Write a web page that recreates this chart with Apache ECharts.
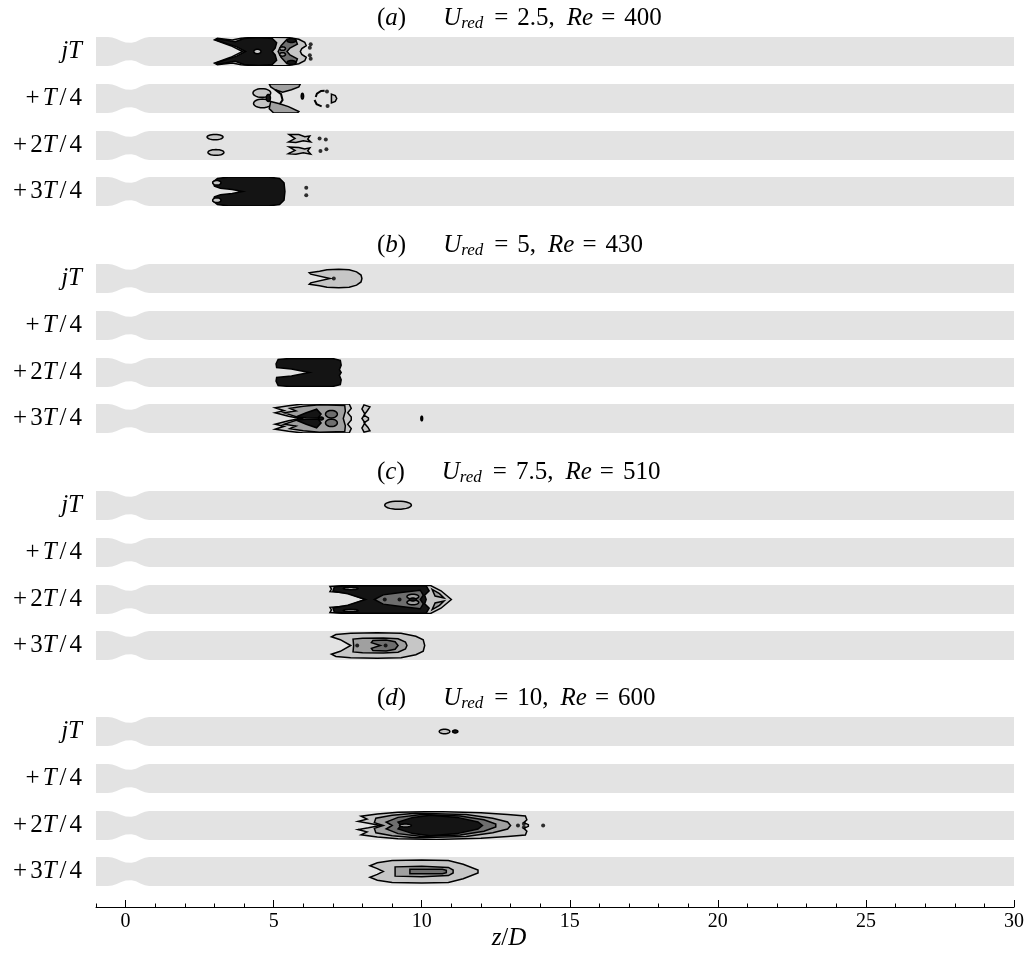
<!DOCTYPE html>
<html><head><meta charset="utf-8">
<script src="https://cdn.jsdelivr.net/npm/echarts@6/dist/echarts.min.js"></script>
<style>html,body{margin:0;padding:0;background:#fff}#c{width:1028px;height:963px}</style>
</head><body><div id="c"></div>
<script>
// ---------------- data ----------------
const zMin = -1, zMax = 30;
const zTickValues = [0, 5, 10, 15, 20, 25, 30];
const rowLabels = ['jT', '+T/4', '+2T/4', '+3T/4'];
const panelLetters = ['a', 'b', 'c', 'd'];
const panelUred = ['2.5', '5', '7.5', '10'];
const panelRe = ['400', '430', '510', '600'];

// channel wall (upper half, z/D vs r/D) with the constriction near z = 0
const wallZ = [-1, -0.6, -0.45, -0.3, -0.15, 0, 0.2, 0.35, 0.5, 0.65, 0.8, 30];
const wallR = [0.5, 0.5, 0.48, 0.43, 0.36, 0.31, 0.30, 0.34, 0.41, 0.47, 0.5, 0.5];

// contour shapes: lv = contour level (0 light .. 3 darkest), -1 = line only
// s: upper half of a shape symmetric about r=0; p: polygon; e: ellipse [z,r,dz,dr] (m: mirrored pair); l: polyline
const shapesA_jT = [
  {lv:0, s:[[3.95,0],[3.55,0.2],[3.0,0.40],[3.1,0.46],[3.6,0.40],[3.9,0.46],[4.4,0.49],[5.0,0.49],[5.5,0.48],[5.85,0.42],[6.05,0.32],[6.1,0.2],[5.95,0.1],[5.9,0]]},
  {lv:3, s:[[4.05,0],[3.75,0.16],[3.05,0.40],[3.1,0.44],[3.7,0.34],[4.0,0.45],[4.5,0.48],[4.95,0.45],[5.1,0.3],[5.05,0.12],[4.95,0]]},
  {lv:2, s:[[5.15,0],[5.25,0.2],[5.45,0.42],[5.75,0.40],[5.8,0.25],[5.55,0.12],[5.45,0]]},
  {lv:3, e:[5.6,0.38,0.15,0.07], m:1},
  {lv:0, e:[4.45,0,0.12,0.08]},
  {lv:1, e:[5.3,0.1,0.1,0.06], m:1}
];
const dotsA_jT = [[6.25,0.25],[6.25,-0.25],[6.22,0.13],[6.22,-0.13]];

const shapesA_T4 = [
  {lv:0, e:[4.6,0.19,0.3,0.15]},
  {lv:0, e:[4.62,-0.17,0.3,0.15]},
  {lv:1, p:[[4.85,0.5],[5.9,0.5],[5.85,0.4],[5.6,0.3],[5.3,0.22],[5.05,0.3],[4.9,0.4]]},
  {lv:1, p:[[4.9,-0.1],[5.2,-0.18],[5.5,-0.28],[5.85,-0.45],[5.8,-0.5],[5.0,-0.5],[4.85,-0.35]]},
  {lv:3, e:[4.82,0.02,0.07,0.12]},
  {lv:3, e:[5.97,0.08,0.04,0.1]},
  {lv:-1, l:[[6.42,0.05],[6.46,0.17],[6.6,0.26],[6.72,0.27]]},
  {lv:-1, l:[[6.38,-0.05],[6.45,-0.2],[6.62,-0.27]]},
  {lv:-1, l:[[5.05,0.3],[5.25,0.15],[5.3,-0.05],[5.2,-0.2]]},
  {lv:0, p:[[6.95,0.15],[7.08,0.1],[7.13,0],[7.08,-0.1],[6.95,-0.15]]}
];
const dotsA_T4 = [[6.8,0.24],[6.82,-0.26]];

const shapesA_2T4 = [
  {lv:0, e:[3.02,0.29,0.27,0.09]},
  {lv:0, e:[3.05,-0.24,0.27,0.1]},
  {lv:0, p:[[5.52,0.38],[5.85,0.38],[6.05,0.3],[6.22,0.33],[6.15,0.22],[6.25,0.12],[6.0,0.16],[5.75,0.1],[5.5,0.12],[5.72,0.24]]},
  {lv:0, p:[[5.52,-0.05],[5.85,-0.07],[6.05,-0.12],[6.22,-0.08],[6.15,-0.18],[6.25,-0.3],[6.0,-0.25],[5.75,-0.3],[5.5,-0.28],[5.72,-0.17]]}
];
const dotsA_2T4 = [[6.55,0.24],[6.76,0.21],[6.58,-0.19],[6.78,-0.13]];

const shapesA_3T4 = [
  {lv:3, s:[[3.95,0],[3.6,0.07],[3.2,0.11],[3.0,0.18],[2.95,0.33],[3.1,0.45],[3.5,0.5],[4.8,0.5],[5.2,0.45],[5.35,0.3],[5.38,0]]},
  {lv:0, e:[3.08,0.3,0.14,0.08], m:1}
];
const dotsA_3T4 = [[6.1,0.13],[6.1,-0.13]];

const shapesB_jT = [
  {lv:0, s:[[6.9,0],[6.25,0.15],[6.2,0.2],[6.55,0.25],[6.8,0.3],[7.2,0.32],[7.55,0.3],[7.8,0.23],[7.95,0.12],[7.98,0]]}
];
const dotsB_jT = [[7.03,0]];
const shapesB_T4 = [];
const dotsB_T4 = [];
const shapesB_2T4 = [
  {lv:3, s:[[6.2,0],[5.6,0.12],[5.1,0.17],[5.08,0.3],[5.15,0.45],[5.5,0.48],[7.0,0.48],[7.25,0.42],[7.28,0.25],[7.22,0.1],[7.28,0]]}
];
const dotsB_2T4 = [];
const shapesB_3T4 = [
  {lv:0, s:[[5.9,0],[5.5,0.08],[5.05,0.2],[5.35,0.27],[5.05,0.37],[5.5,0.44],[6.0,0.5],[7.55,0.5],[7.62,0.35],[7.5,0.2],[7.62,0.05],[7.62,0]]},
  {lv:1, s:[[5.95,0],[5.65,0.1],[5.35,0.2],[5.75,0.26],[5.55,0.35],[6.0,0.42],[6.55,0.47],[7.4,0.45],[7.42,0.25],[7.35,0]]},
  {lv:3, p:[[5.75,0.05],[6.1,0.2],[6.45,0.32],[6.6,0.15],[6.5,0.02],[6.1,0.03]]},
  {lv:3, p:[[5.75,-0.05],[6.1,-0.2],[6.45,-0.32],[6.6,-0.15],[6.5,-0.02],[6.1,-0.03]]},
  {lv:2, e:[6.95,0.15,0.2,0.13], m:1},
  {lv:3, e:[6.6,0,0.08,0.05]},
  {lv:0, p:[[8.05,0.47],[8.25,0.4],[8.15,0.25],[8.05,0.12],[8.2,0.02],[8.2,-0.05],[8.05,-0.15],[8.18,-0.3],[8.25,-0.42],[8.05,-0.47],[7.98,-0.33],[8.08,-0.15],[7.98,0],[8.08,0.15],[7.98,0.33]]},
  {lv:3, e:[10.0,0,0.03,0.08]}
];
const dotsB_3T4 = [];

const shapesC_jT = [ {lv:0, e:[9.2,0.01,0.45,0.14]} ];
const dotsC_jT = [];
const shapesC_T4 = [];
const dotsC_T4 = [];
const shapesC_2T4 = [
  {lv:0, s:[[8.1,0],[7.5,0.22],[6.9,0.27],[6.95,0.36],[6.9,0.45],[7.4,0.48],[10.3,0.48],[10.65,0.3],[11.0,0]]},
  {lv:3, s:[[8.1,0],[7.5,0.2],[7.0,0.29],[7.05,0.44],[7.5,0.47],[10.15,0.47],[10.25,0.3],[10.1,0.15],[10.15,0]]},
  {lv:2, s:[[8.4,0],[8.7,0.16],[9.3,0.24],[9.95,0.32],[10.05,0.15],[9.95,0]]},
  {lv:1, e:[9.7,0.1,0.2,0.08], m:1},
  {lv:3, e:[9.7,0,0.12,0.05]},
  {lv:1, p:[[10.35,0.35],[10.6,0.2],[10.75,0.05],[10.45,0.12]]},
  {lv:1, p:[[10.35,-0.35],[10.6,-0.2],[10.75,-0.05],[10.45,-0.12]]},
  {lv:1, e:[7.6,0.38,0.25,0.04], m:1}
];
const dotsC_2T4 = [[8.75,0],[9.25,0]];
const shapesC_3T4 = [
  {lv:0, s:[[7.6,0],[7.25,0.2],[6.95,0.3],[7.1,0.38],[7.6,0.42],[8.5,0.44],[9.3,0.42],[9.8,0.32],[10.05,0.2],[10.1,0]]},
  {lv:1, s:[[7.7,0],[7.68,0.22],[8.0,0.25],[8.7,0.26],[9.2,0.23],[9.45,0.12],[9.5,0]]},
  {lv:2, s:[[8.6,0],[8.3,0.1],[8.35,0.17],[8.8,0.19],[9.1,0.13],[9.2,0]]}
];
const dotsC_3T4 = [[7.82,0],[8.78,0]];

const shapesD_jT = [ {lv:0, e:[10.77,0,0.18,0.08]}, {lv:3, e:[11.13,0,0.09,0.05]} ];
const dotsD_jT = [];
const shapesD_T4 = [];
const dotsD_T4 = [];
const shapesD_2T4 = [
  {lv:0, s:[[8.6,0],[8.2,0.08],[7.85,0.14],[8.15,0.22],[7.95,0.32],[8.5,0.4],[9.2,0.46],[10.5,0.48],[12.0,0.44],[12.9,0.38],[13.5,0.33],[13.55,0.2],[13.45,0.1],[13.6,0.03],[13.6,0]]},
  {lv:1, s:[[8.7,0],[8.4,0.1],[8.45,0.25],[9.0,0.35],[9.8,0.42],[11.5,0.38],[12.4,0.25],[12.9,0.12],[13.0,0]]},
  {lv:2, s:[[9.0,0],[8.8,0.12],[9.2,0.28],[10.0,0.38],[11.3,0.33],[12.1,0.2],[12.5,0.05],[12.5,0]]},
  {lv:3, s:[[9.3,0],[9.2,0.12],[9.7,0.28],[10.3,0.35],[11.2,0.28],[11.9,0.12],[12.05,0]]},
  {lv:1, e:[9.45,0,0.2,0.05]}
];
const dotsD_2T4 = [[13.25,0],[13.45,0.06],[13.45,-0.06],[14.1,0]];
const shapesD_3T4 = [
  {lv:0, s:[[8.7,0],[8.5,0.1],[8.25,0.2],[8.5,0.3],[9.0,0.38],[10.0,0.4],[10.9,0.38],[11.4,0.25],[11.9,0.05],[11.9,0]]},
  {lv:1, s:[[9.1,0],[9.1,0.16],[10.0,0.18],[10.9,0.14],[11.06,0.05],[11.06,0]]},
  {lv:2, s:[[9.6,0],[9.6,0.08],[10.7,0.08],[10.83,0.04],[10.83,0]]}
];
const dotsD_3T4 = [];

const rowShapes = [shapesA_jT, shapesA_T4, shapesA_2T4, shapesA_3T4,
                   shapesB_jT, shapesB_T4, shapesB_2T4, shapesB_3T4,
                   shapesC_jT, shapesC_T4, shapesC_2T4, shapesC_3T4,
                   shapesD_jT, shapesD_T4, shapesD_2T4, shapesD_3T4];
const rowDots = [dotsA_jT, dotsA_T4, dotsA_2T4, dotsA_3T4,
                 dotsB_jT, dotsB_T4, dotsB_2T4, dotsB_3T4,
                 dotsC_jT, dotsC_T4, dotsC_2T4, dotsC_3T4,
                 dotsD_jT, dotsD_T4, dotsD_2T4, dotsD_3T4];

// ---------------- layout / style ----------------
const panelTop = [37, 264, 491, 717];
const rowStep = 46.8;
const bandH = 29;
const gridLeft = 96, gridRight = 14;
const levelFill = ['#c6c6c6', '#a0a0a0', '#6e6e6e', '#141414'];
const bandColor = '#e3e3e3';
const serif = '"Liberation Serif", "DejaVu Serif", serif';

const rowTop = [];
for (let p = 0; p < 4; p++) for (let k = 0; k < 4; k++) rowTop.push(Math.round(panelTop[p] + k * rowStep));

// math-style rich text: italic letters, upright digits/operators with TeX-like spacing
function mathRich(str) {
  let out = '';
  for (const ch of str) {
    if (/[A-Za-z]/.test(ch)) out += '{i|' + ch + '}';
    else if (ch === '+' || ch === '/') out += '{op|' + ch + '}';
    else out += '{n|' + ch + '}';
  }
  return out;
}

function shapePolys(sh) {
  const out = [];
  if (sh.s) {
    const s = sh.s, pts = s.slice();
    for (let i = s.length - 2; i >= 1; i--) pts.push([s[i][0], -s[i][1]]);
    out.push(pts);
  } else if (sh.p) {
    out.push(sh.p);
  } else if (sh.e) {
    const [cz, cr, dz, dr] = sh.e;
    const centers = sh.m ? [cr, -cr] : [cr];
    centers.forEach(c => {
      const pts = [];
      for (let k = 0; k < 28; k++) {
        const t = k / 28 * Math.PI * 2;
        pts.push([cz + dz * Math.cos(t), c + dr * Math.sin(t)]);
      }
      out.push(pts);
    });
  }
  return out;
}

const grids = [], xAxes = [], yAxes = [], series = [];
for (let i = 0; i < 16; i++) {
  grids.push({left: gridLeft, right: gridRight, top: rowTop[i], height: bandH});
  const last = i === 15;
  xAxes.push({
    gridIndex: i, type: 'value', min: zMin, max: zMax, show: last, position: 'bottom',
    offset: last ? 21 : 0,
    axisLine: {show: true, onZero: false, lineStyle: {color: '#000', width: 1}},
    axisTick: {show: true, inside: true, length: 7, customValues: zTickValues, lineStyle: {color: '#000', width: 1}},
    axisLabel: {show: true, customValues: zTickValues, color: '#000', fontSize: 20, fontFamily: serif, margin: 5},
    splitLine: {show: false}
  });
  yAxes.push({gridIndex: i, type: 'value', min: -0.5, max: 0.5, show: false});

  // channel
  series.push({
    type: 'custom', xAxisIndex: i, yAxisIndex: i, z: 1, silent: true, clip: true,
    data: [[0, 0]],
    renderItem: (params, api) => {
      const pts = [];
      for (let k = 0; k < wallZ.length; k++) pts.push(api.coord([wallZ[k], wallR[k]]));
      for (let k = wallZ.length - 1; k >= 0; k--) pts.push(api.coord([wallZ[k], -wallR[k]]));
      return {type: 'polygon', shape: {points: pts}, style: {fill: bandColor, stroke: null}};
    }
  });
  // contours
  const shapes = rowShapes[i];
  if (shapes.length) {
    series.push({
      type: 'custom', xAxisIndex: i, yAxisIndex: i, z: 2, silent: true, clip: true,
      data: shapes.map((s, k) => [k, 0]),
      renderItem: (params, api) => {
        const sh = shapes[params.dataIndex];
        if (sh.l) {
          return {type: 'polyline', shape: {points: sh.l.map(p => api.coord(p))},
                  style: {stroke: '#000', lineWidth: 2, fill: null}};
        }
        const children = shapePolys(sh).map(poly => ({
          type: 'polygon', shape: {points: poly.map(p => api.coord(p))},
          style: {fill: levelFill[sh.lv], stroke: '#000', lineWidth: 1.5}
        }));
        return {type: 'group', children};
      }
    });
  }
  if (rowDots[i].length) {
    series.push({
      type: 'scatter', xAxisIndex: i, yAxisIndex: i, z: 3, silent: true,
      symbol: 'circle', symbolSize: 4, itemStyle: {color: '#000'},
      data: rowDots[i]
    });
  }
}
// minor ticks axis
const minorTicks = [];
for (let v = zMin; v <= zMax; v++) minorTicks.push(v);
xAxes.push({
  gridIndex: 15, type: 'value', min: zMin, max: zMax, position: 'bottom', offset: 21,
  axisLine: {show: false, onZero: false},
  axisTick: {show: true, inside: true, length: 3.5, customValues: minorTicks, lineStyle: {color: '#000', width: 1}},
  axisLabel: {show: false}, splitLine: {show: false}
});

const graphic = [];
const FS = 25, LFS = 25;
const titleRich = {
  i: {fontFamily: serif, fontStyle: 'italic', fontSize: FS, color: '#000'},
  n: {fontFamily: serif, fontSize: FS, color: '#000'},
  eq: {fontFamily: serif, fontSize: FS, color: '#000', padding: [0, 9, 0, 8]},
  sub: {fontFamily: serif, fontStyle: 'italic', fontSize: 17, color: '#000', padding: [11, 3, 0, 0]},
  sp: {fontSize: FS, width: 37},
  gap: {fontSize: FS, width: 12}
};
const labelRich = {
  i: {fontFamily: serif, fontStyle: 'italic', fontSize: LFS, color: '#000'},
  n: {fontFamily: serif, fontSize: LFS, color: '#000'},
  op: {fontFamily: serif, fontSize: LFS, color: '#000', padding: [0, 3, 0, 3]}
};
for (let i = 0; i < 16; i++) {
  graphic.push({
    type: 'text', x: 82, y: rowTop[i] + bandH / 2 - 13,
    style: {text: mathRich(rowLabels[i % 4]), rich: labelRich, align: 'right', verticalAlign: 'top'}
  });
}
for (let p = 0; p < 4; p++) {
  const t = '{n|(}{i|' + panelLetters[p] + '}{n|)}{sp|}{i|U}{sub|red}{eq|=}{n|' + panelUred[p] +
            ',}{gap|}{i|Re}{eq|=}{n|' + panelRe[p] + '}';
  graphic.push({
    type: 'text', x: 377, y: panelTop[p] - 33,
    style: {text: t, rich: titleRich, align: 'left', verticalAlign: 'top'}
  });
}
graphic.push({
  type: 'text', x: 509, y: 926,
  style: {text: '{i|z}{n|/}{i|D}', rich: titleRich, align: 'center', verticalAlign: 'top'}
});

const chart = echarts.init(document.getElementById('c'), null, {renderer: 'canvas'});
chart.setOption({
  animation: false,
  backgroundColor: '#fff',
  grid: grids, xAxis: xAxes, yAxis: yAxes, series, graphic
});
</script></body></html>
